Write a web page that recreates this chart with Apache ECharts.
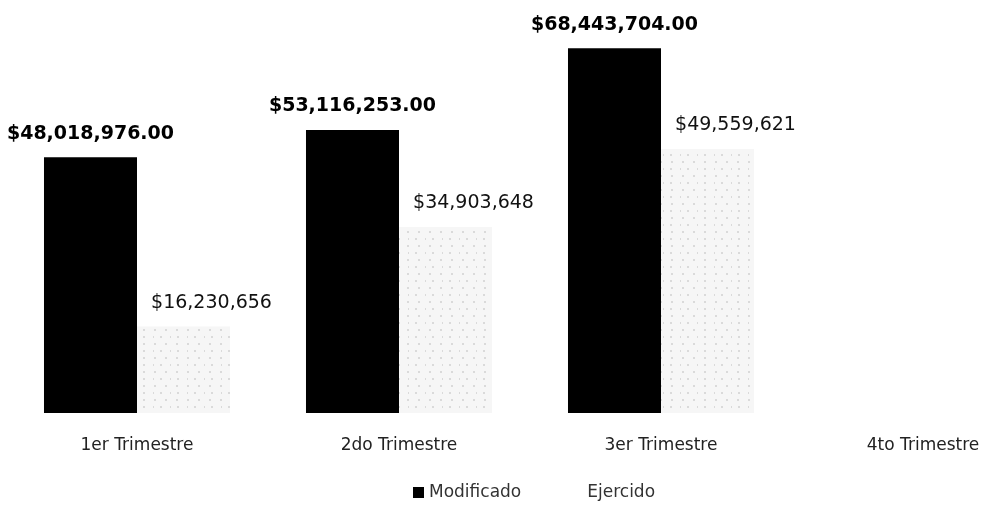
<!DOCTYPE html>
<html>
<head>
<meta charset="utf-8">
<script src="https://cdn.jsdelivr.net/npm/echarts@6/dist/echarts.min.js"></script>
<style>html,body{margin:0;padding:0;background:#fff;overflow:hidden;width:991px;height:514px}#c{width:1060px;height:514px}</style>
</head>
<body>
<div id="c"></div>
<script>
var categories = ['1er Trimestre', '2do Trimestre', '3er Trimestre', '4to Trimestre'];
var modificado = [48018976.00, 53116253.00, 68443704.00, null];
var ejercido = [16230656, 34903648, 49559621, null];

function fmt(v, dec) {
  var s = Number(v).toFixed(dec);
  var parts = s.split('.');
  parts[0] = parts[0].replace(/\B(?=(\d{3})+(?!\d))/g, ',');
  return '$' + parts.join('.');
}

var chart = echarts.init(document.getElementById('c'), null, {renderer: 'canvas'});
chart.setOption({
  backgroundColor: '#fff',
  animation: false,
  textStyle: {fontFamily: 'DejaVu Sans'},
  grid: {left: 6, right: 6, top: 40, bottom: 101, containLabel: false},
  xAxis: {
    type: 'category',
    data: categories,
    axisLine: {show: false},
    axisTick: {show: false},
    axisLabel: {color: '#222', fontSize: 17, margin: 24, fontFamily: 'DejaVu Sans', hideOverlap: false}
  },
  yAxis: {
    type: 'value', min: 0, max: 70000000, show: false,
    splitLine: {show: false}
  },
  legend: {
    bottom: 8, left: 408, itemWidth: 11, itemHeight: 11, itemGap: 50,
    icon: 'rect',
    textStyle: {color: '#333', fontSize: 17, fontFamily: 'DejaVu Sans'},
    data: ['Modificado', {name: 'Ejercido', itemStyle: {color: '#fff', decal: 'none'}}]
  },
  series: [
    {
      name: 'Modificado', type: 'bar', data: modificado,
      barGap: '0%', barCategoryGap: '29%',
      itemStyle: {color: '#000'},
      label: {
        show: true, position: 'top', distance: 14,
        color: '#000', fontSize: 19, fontWeight: 'bold', fontFamily: 'DejaVu Sans',
        formatter: function (p) { return p.value == null ? '' : fmt(p.value, 2); }
      }
    },
    {
      name: 'Ejercido', type: 'bar', data: ejercido,
      itemStyle: {
        color: '#f6f6f6',
        decal: {
          symbol: 'rect', symbolSize: 0.5, color: 'rgba(0,0,0,0.45)',
          dashArrayX: [[2, 9], [1, 6, 2, 8]], dashArrayY: [2, 5], rotation: 0
        }
      },
      label: {
        show: true, position: 'top', distance: 14, offset: [28, 0],
        color: '#111', fontSize: 19, fontFamily: 'DejaVu Sans',
        formatter: function (p) { return p.value == null ? '' : fmt(p.value, 0); }
      }
    }
  ]
});
</script>
</body>
</html>
